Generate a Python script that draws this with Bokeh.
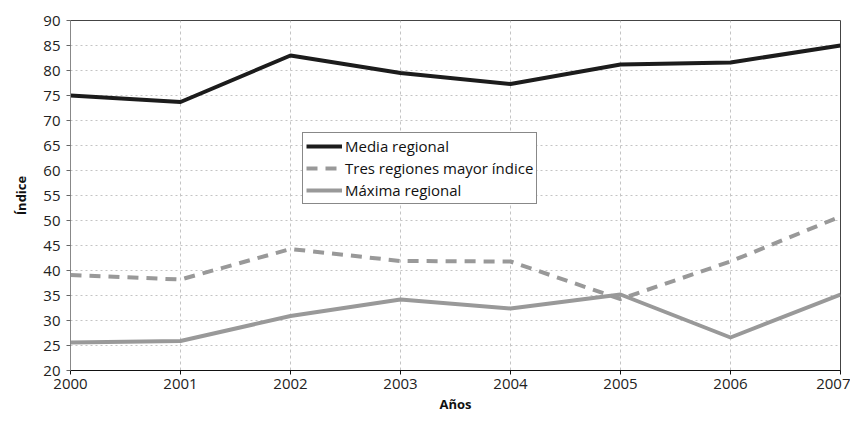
from bokeh.plotting import figure
from bokeh.models import Range1d, FixedTicker, Legend, LegendItem
from bokeh.embed import file_html
from bokeh.resources import INLINE

years = [2000, 2001, 2002, 2003, 2004, 2005, 2006, 2007]
media_regional = [75.0, 73.7, 83.0, 79.5, 77.3, 81.2, 81.6, 85.0]
tres_regiones = [39.1, 38.2, 44.3, 41.9, 41.8, 34.3, 41.8, 50.8]
maxima_regional = [25.6, 25.9, 30.9, 34.2, 32.4, 35.2, 26.6, 35.2]
y_ticks = list(range(20, 95, 5))

FONT = "Open Sans"

p = figure(width=850, height=415, output_backend="svg", toolbar_location=None,
           x_range=Range1d(2000, 2007), y_range=Range1d(20, 90))
p.min_border_left = 70
p.min_border_right = 10
p.min_border_top = 20
p.min_border_bottom = 43
p.background_fill_color = "white"
p.border_fill_color = "white"
p.outline_line_color = "#444444"
p.outline_line_width = 1

p.xaxis.ticker = FixedTicker(ticks=years)
p.yaxis.ticker = FixedTicker(ticks=y_ticks)
p.xaxis.minor_tick_line_color = None
p.yaxis.minor_tick_line_color = None
for ax in (p.xaxis, p.yaxis):
    ax.major_label_text_font = FONT
    ax.major_label_text_font_size = "15px"
    ax.major_label_text_color = "#222222"
    ax.axis_label_text_font = FONT
    ax.axis_label_text_font_size = "13px"
    ax.axis_label_text_font_style = "bold"
    ax.axis_label_text_color = "#111111"
    ax.major_tick_in = 0
    ax.major_tick_out = 4
p.xaxis.axis_line_color = "#111111"
p.xaxis.major_tick_line_color = "#111111"
p.yaxis.axis_line_color = "#888888"
p.yaxis.major_tick_line_color = "#666666"
p.xaxis.axis_label = "Años"
p.yaxis.axis_label = "Índice"
p.xaxis.major_label_standoff = 4
p.yaxis.major_label_standoff = 6
p.xaxis.axis_label_standoff = 3
p.yaxis.axis_label_standoff = 10

p.xgrid.grid_line_color = "#c4c4c4"
p.xgrid.grid_line_dash = "3 3"
p.ygrid.grid_line_color = "#c4c4c4"
p.ygrid.grid_line_dash = "2 3"

r1 = p.line(years, media_regional, line_color="#1c1c1c", line_width=4)
r2 = p.line(years, tres_regiones, line_color="#999999", line_width=4, line_dash="11 8")
r3 = p.line(years, maxima_regional, line_color="#999999", line_width=4)

legend = Legend(items=[
    LegendItem(label="Media regional", renderers=[r1]),
    LegendItem(label="Tres regiones mayor índice", renderers=[r2]),
    LegendItem(label="Máxima regional", renderers=[r3]),
], location=(232, 166))
legend.label_text_font = FONT
legend.label_text_font_size = "15px"
legend.label_text_color = "#111111"
legend.glyph_width = 36
legend.glyph_height = 18
legend.label_height = 18
legend.label_standoff = 3
legend.spacing = 2
legend.padding = 3
legend.margin = 0
legend.border_line_color = "#111111"
legend.border_line_width = 1
legend.background_fill_color = "white"
legend.background_fill_alpha = 1
p.add_layout(legend, "center")

open("out.html", "w").write(file_html(p, INLINE))
